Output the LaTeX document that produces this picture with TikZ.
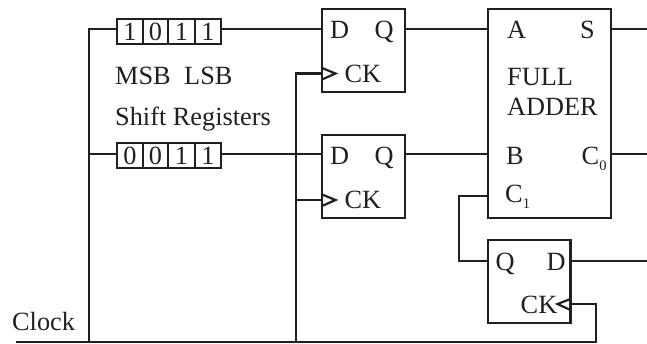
\documentclass[tikz,border=0pt]{standalone}
\usepackage{fontspec}
\setmainfont{Liberation Serif}
\definecolor{ink}{HTML}{231F20}
\begin{document}
\begin{tikzpicture}[x=1pt,y=-1pt,
  every node/.style={text=ink},
  wire/.style={draw=ink,line width=2.2pt,line join=miter},
  block/.style={draw=ink,line width=2.2pt,inner sep=0pt,outer sep=0pt,anchor=north west},
  cell/.style={draw=ink,line width=2.1pt,inner sep=0pt,outer sep=0pt,minimum height=25pt,text height=17pt,text depth=0pt,font=\fontsize{26.3}{26}\selectfont},
  lab/.style={anchor=base west,inner sep=0pt,font=\fontsize{26.3}{26}\selectfont},
  chev/.style={draw=ink,line width=2.2pt,line join=miter}]
\useasboundingbox (0,0) rectangle (647,343);
% flip-flops and adder
\node[block,minimum width=83pt,minimum height=83pt] (ffa) at (322,9) {};
\node[block,minimum width=83pt,minimum height=83pt] (ffb) at (322,135) {};
\node[block,minimum width=123pt,minimum height=209pt] (fa) at (488,9) {};
\node[block,minimum width=82.5pt,minimum height=83pt] (ffc) at (488,240) {};
% registers
\node[cell,minimum width=26pt] (ra1) at (130,31.5) {1};
\node[cell,minimum width=25pt] (ra2) at (155.5,31.5) {0};
\node[cell,minimum width=27pt] (ra3) at (181.5,31.5) {1};
\node[cell,minimum width=26pt] (ra4) at (208,31.5) {1};
\node[cell,minimum width=26pt] (rb1) at (130,155.5) {0};
\node[cell,minimum width=25pt] (rb2) at (155.5,155.5) {0};
\node[cell,minimum width=27pt] (rb3) at (181.5,155.5) {1};
\node[cell,minimum width=26pt] (rb4) at (208,155.5) {1};
% ports
\coordinate (busL) at (89,342);
\coordinate (busS) at (16,342);
\coordinate (busE) at (596,342);
\coordinate (busM) at (296,342);
\coordinate (topL) at (89,29);
\coordinate (midL) at (89,154);
\coordinate (raW) at (117,29);
\coordinate (raE) at (221,29);
\coordinate (rbW) at (117,154);
\coordinate (rbE) at (221,154);
\coordinate (ffaD) at (322,29);
\coordinate (ffbD) at (322,154);
\coordinate (ffaQ) at (405,29);
\coordinate (ffbQ) at (405,154);
\coordinate (faA) at (488,29);
\coordinate (faB) at (488,154);
\coordinate (faS) at (611,29);
\coordinate (faC) at (611,154);
\coordinate (outS) at (647,29);
\coordinate (outC) at (647,154);
\coordinate (faI) at (488,196);
\coordinate (jogT) at (459,196);
\coordinate (jogB) at (459,261);
\coordinate (ffcQ) at (488,261);
\coordinate (ffcD) at (570.5,261);
\coordinate (outD) at (647,261);
\coordinate (ckaT) at (296,73.5);
\coordinate (ckaP) at (322,73.5);
\coordinate (ckbP) at (322,200);
\coordinate (ckbM) at (296,200);
\coordinate (ckcP) at (570.5,304);
\coordinate (ckcR) at (596,304);
% wires
\draw[wire] (busS) -- (busE) -- (ckcR) -- (ckcP);
\draw[wire] (busL) -- (topL) -- (raW);
\draw[wire] (midL) -- (rbW);
\draw[wire] (raE) -- (ffaD);
\draw[wire] (rbE) -- (ffbD);
\draw[wire] (busM) -- (ckaT) -- (ckaP);
\draw[wire] (ckbM) -- (ckbP);
\draw[wire] (ffaQ) -- (faA);
\draw[wire] (ffbQ) -- (faB);
\draw[wire] (faS) -- (outS);
\draw[wire] (faC) -- (outC);
\draw[wire] (faI) -- (jogT) -- (jogB) -- (ffcQ);
\draw[wire] (ffcD) -- (outD);
% clock chevrons
\draw[chev] (322,68) -- (335.5,73.5) -- (322,79.5);
\draw[chev] (322,194.5) -- (335.5,200) -- (322,206);
\draw[chev] (570.5,299) -- (557.5,304) -- (570.5,310);
% labels
\node[lab] (tda) at (330,38) {D};
\node[lab] (tqa) at (374.5,38) {Q};
\node[lab] (tca) at (344.5,82) {CK};
\node[lab] (tdb) at (330,164) {D};
\node[lab] (tqb) at (374.5,164) {Q};
\node[lab] (tcb) at (344.5,208) {CK};
\node[lab] (tA) at (507,38) {A};
\node[lab] (tS) at (580,38) {S};
\node[lab] (tF) at (507,85) {FULL};
\node[lab] (tAd) at (507,115) {ADDER};
\node[lab] (tB) at (506,164) {B};
\node[lab] (tCo) at (581.5,164) {C\raisebox{-6pt}{\fontsize{14.5}{15}\selectfont 0}};
\node[lab] (tCi) at (505,202) {C\raisebox{-6.5pt}{\fontsize{14.5}{15}\selectfont 1}};
\node[lab] (tqc) at (495.5,270) {Q};
\node[lab] (tdc) at (546.5,270) {D};
\node[lab] (tcc) at (520.5,313) {CK};
\node[lab] (tclk) at (12,330) {Clock};
\node[lab] (tmsb) at (115,84) {MSB};
\node[lab] (tlsb) at (184,84) {LSB};
\node[lab] (tsr) at (115,125) {Shift Registers};
\end{tikzpicture}
\end{document}
